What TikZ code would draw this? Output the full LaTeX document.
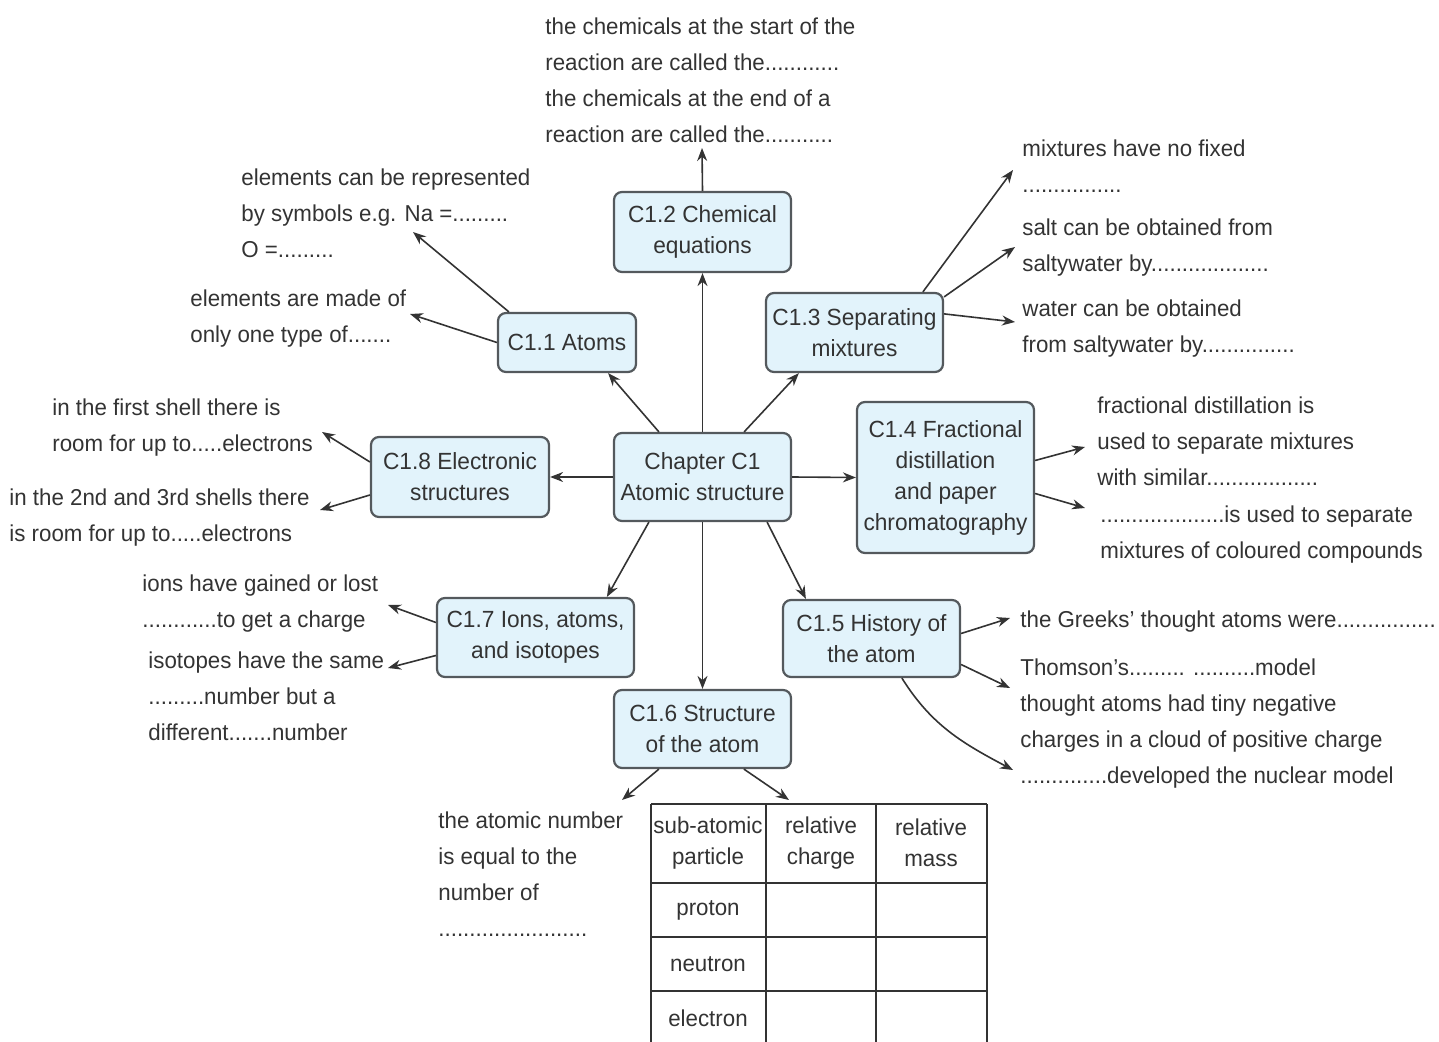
\documentclass[tikz,border=0pt]{standalone}
\usepackage{fontspec}
\setmainfont[FakeStretch=0.97]{Liberation Sans}
\usetikzlibrary{arrows.meta,calc}
\definecolor{boxfill}{HTML}{E2F3FB}
\definecolor{boxline}{HTML}{54595D}
\definecolor{txt}{HTML}{333333}
\begin{document}
\begin{tikzpicture}[x=0.5pt,y=-0.5pt,
  box/.style={draw=boxline, fill=boxfill, line width=1.1pt, rounded corners=4pt, align=center, text=txt, font={\fontsize{11.7}{15.5}\selectfont}, inner sep=0pt},
  lbl/.style={align=left, anchor=north west, inner sep=0pt, text=txt, font={\fontsize{11.5}{18}\selectfont}},
  arr/.style={draw=txt, line width=0.8pt, -{Stealth[length=6.5pt,width=5pt]}},
  cell/.style={align=center, text=txt, font={\fontsize{11.5}{15.5}\selectfont}, inner sep=0pt},
  tab/.style={draw=txt, line width=1pt}]
\useasboundingbox (0,0) rectangle (1439,1042);

% boxes
\node[box, minimum width=88.5pt, minimum height=44pt] (ch) at (702.5,477) {Chapter C1\\Atomic structure};
\node[box, minimum width=88.5pt, minimum height=40pt] (c12) at (702.5,232) {C1.2 Chemical\\equations};
\node[box, minimum width=69pt, minimum height=29.5pt] (c11) at (567,342.5) {C1.1 Atoms};
\node[box, minimum width=88.5pt, minimum height=39.5pt] (c13) at (854.5,332.5) {C1.3 Separating\\mixtures};
\node[box, minimum width=89pt, minimum height=40pt] (c18) at (460,477) {C1.8 Electronic\\structures};
\node[box, minimum width=88.5pt, minimum height=75.5pt] (c14) at (945.5,477.5) {C1.4 Fractional\\distillation\\and paper\\chromatography};
\node[box, minimum width=98.5pt, minimum height=39.5pt] (c17) at (535.5,637.5) {C1.7 Ions, atoms,\\and isotopes};
\node[box, minimum width=88.5pt, minimum height=38.5pt] (c15) at (871.5,638.5) {C1.5 History of\\the atom};
\node[box, minimum width=88.5pt, minimum height=39pt] (c16) at (702.5,729) {C1.6 Structure\\of the atom};

% text labels
\node[lbl] (topT) at (545,17) {the chemicals at the start of the\\reaction are called the............\\the chemicals at the end of a\\reaction are called the...........};
\node[lbl] (symT) at (241,168) {elements can be represented\\by symbols e.g. Na =.........\\O =.........};
\node[lbl] (madeT) at (190,289) {elements are made of\\only one type of.......};
\node[lbl] (mixT) at (1022,139) {mixtures have no fixed\\................};
\node[lbl] (saltT) at (1022,218) {salt can be obtained from\\saltywater by...................};
\node[lbl] (waterT) at (1022,299) {water can be obtained\\from saltywater by...............};
\node[lbl] (sh1T) at (52,398) {in the first shell there is\\room for up to.....electrons};
\node[lbl] (sh2T) at (9,488) {in the 2nd and 3rd shells there\\is room for up to.....electrons};
\node[lbl] (fracT) at (1097,396) {fractional distillation is\\used to separate mixtures\\with similar..................};
\node[lbl] (chromT) at (1100,505) {....................is used to separate\\mixtures of coloured compounds};
\node[lbl] (ionT) at (142,574) {ions have gained or lost\\............to get a charge};
\node[lbl] (isoT) at (148,651) {isotopes have the same\\.........number but a\\different.......number};
\node[lbl] (greekT) at (1020,610) {the Greeks' thought atoms were................};
\node[lbl] (thomT) at (1020,658) {Thomson's......... ..........model\\thought atoms had tiny negative\\charges in a cloud of positive charge\\..............developed the nuclear model};
\node[lbl] (atomT) at (438,811) {the atomic number\\is equal to the\\number of\\........................};

% arrow tips
\coordinate (aTop) at (702,148);
\coordinate (aSym) at (413,232);
\coordinate (aMade) at (410,314);
\coordinate (aMix) at (1013,170);
\coordinate (aSalt) at (1015,247);
\coordinate (aWater) at (1015,322);
\coordinate (aSh1) at (322,432);
\coordinate (aSh2) at (320,510);
\coordinate (aFrac) at (1085,447);
\coordinate (aChrom) at (1085,508);
\coordinate (aIon) at (388,605);
\coordinate (aIso) at (388,668);
\coordinate (aGreek) at (1010,618);
\coordinate (aThom) at (1010,688);
\coordinate (aRuth) at (1013,770);
\coordinate (aAtom) at (622,800);
\coordinate (tabTop) at (789,800);

% central connectors
\draw[arr] (ch.north) -- (c12.south);
\draw[arr] (ch.south) -- (c16.north);
\draw[arr] ($(ch.north west)+(46,0)$) -- ($(c11.south east)+(-29,0)$);
\draw[arr] ($(ch.north east)+(-48,0)$) -- ($(c13.south west)+(34,0)$);
\draw[arr] (ch.west) -- (c18.east);
\draw[arr] (ch.east) -- (c14.west);
\draw[arr] ($(ch.south west)+(36,0)$) -- ($(c17.north west)+(171,0)$);
\draw[arr] ($(ch.south east)+(-25,0)$) -- ($(c15.north west)+(24,0)$);

% outer connectors
\draw[arr] (c12.north) -- (aTop);
\draw[arr] ($(c11.north west)+(12,0)$) -- (aSym);
\draw[arr] (c11.west) -- (aMade);
\draw[arr] ($(c13.north west)+(158,0)$) -- (aMix);
\draw[arr] ($(c13.north east)+(0,5)$) -- (aSalt);
\draw[arr] ($(c13.north east)+(0,22)$) -- (aWater);
\draw[arr] ($(c18.west)+(0,-15)$) -- (aSh1);
\draw[arr] ($(c18.west)+(0,18)$) -- (aSh2);
\draw[arr] ($(c14.east)+(0,-17)$) -- (aFrac);
\draw[arr] ($(c14.east)+(0,16)$) -- (aChrom);
\draw[arr] ($(c17.west)+(0,-15)$) -- (aIon);
\draw[arr] ($(c17.west)+(0,18)$) -- (aIso);
\draw[arr] ($(c15.east)+(0,-5)$) -- (aGreek);
\draw[arr] ($(c15.east)+(0,26)$) -- (aThom);
\draw[arr] ($(c15.south west)+(120,0)$) to[out=-58,in=152] (aRuth);
\draw[arr] ($(c16.south west)+(46,0)$) -- (aAtom);
\draw[arr] ($(c16.south west)+(131,0)$) -- (tabTop);

% table
\draw[tab] (651,804) -- (987,804);
\draw[tab] (651,883) -- (987,883);
\draw[tab] (651,937) -- (987,937);
\draw[tab] (651,991) -- (987,991);
\draw[tab] (651,804) -- (651,1042);
\draw[tab] (766,804) -- (766,1042);
\draw[tab] (876,804) -- (876,1042);
\draw[tab] (987,804) -- (987,1042);
\node[cell] (h1) at (708,843) {sub-atomic\\particle};
\node[cell] (h2) at (821,843) {relative\\charge};
\node[cell] (h3) at (931,843) {relative\\mass};
\node[cell] (r1) at (708,910) {proton};
\node[cell] (r2) at (708,964) {neutron};
\node[cell] (r3) at (708,1018) {electron};
\end{tikzpicture}
\end{document}
